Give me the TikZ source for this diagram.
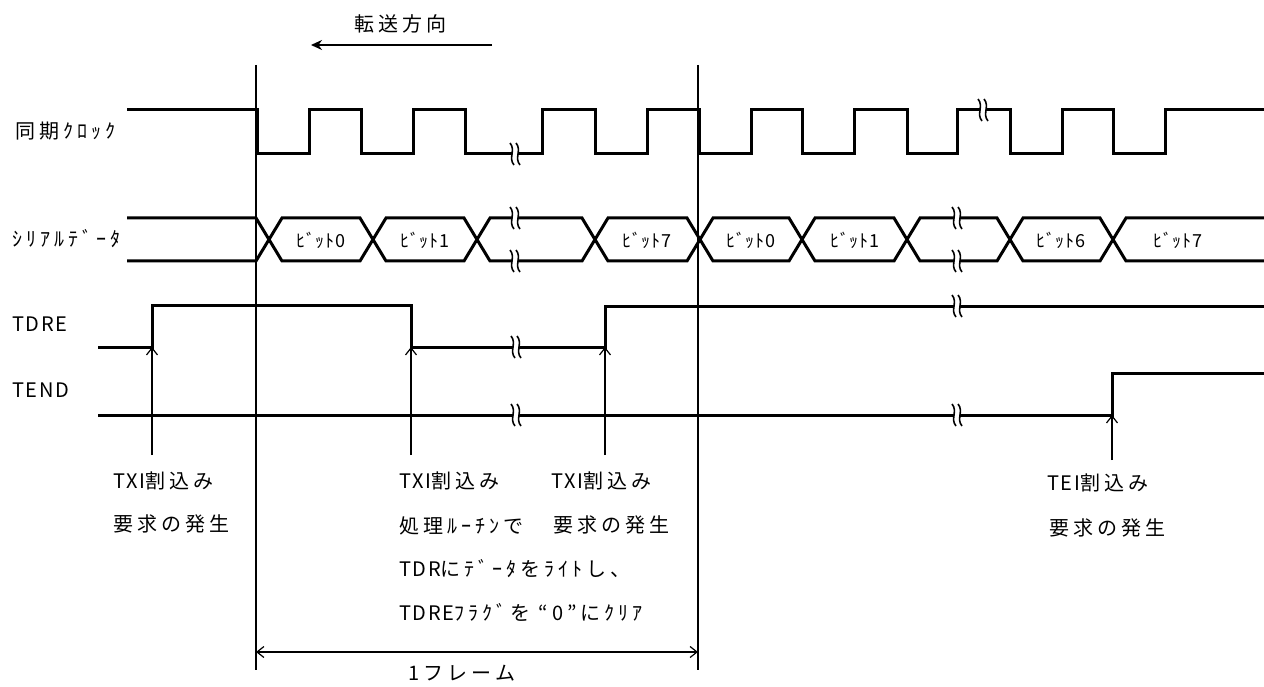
\documentclass[tikz,border=0pt]{standalone}
\usepackage{fontspec}
\setmainfont{Noto Sans CJK JP}
\newfontfamily\jpfont[LetterSpace=20]{Noto Sans CJK JP}
\newfontfamily\latfont[LetterSpace=8]{Noto Sans CJK JP}
\newfontfamily\bitfont[LetterSpace=4]{Noto Sans CJK JP}
\usetikzlibrary{arrows.meta}
\tikzset{
  sigline/.style={draw=black,line width=3pt,line join=miter},
  guide/.style={draw=black,line width=1.2pt},
  irq/.style={draw=black,line width=1.2pt,-{Straight Barb[length=7pt,width=11pt]}},
  lbl/.style={inner sep=0pt,anchor=west,font=\jpfont\fontsize{20}{24}\selectfont},
  bitlbl/.style={inner sep=0pt,font=\bitfont\fontsize{18}{22}\selectfont},
  brk/.pic={
    \fill[white] (-3,-9) rectangle (3,9);
    \draw[line width=1.6pt] (-5,-11) .. controls (1,-4) and (-7,4) .. (-1,11);
    \draw[line width=1.6pt] (1,-11) .. controls (7,-4) and (-1,4) .. (5,11);
  },
}
\newcommand{\lat}[1]{{\latfont #1}}

\begin{document}
\begin{tikzpicture}[x=1pt,y=-1pt]
\useasboundingbox (0,0) rectangle (1264,687);
\node[lbl,anchor=center] (dir) at (400,24) {転送方向};
\coordinate (dirS) at (492,45);
\coordinate (dirE) at (311,45);
\draw[line width=2pt,-{Stealth[length=11pt,width=10pt]}] (dirS) -- (dirE);
\coordinate (f1t) at (256,65);
\coordinate (f1b) at (256,670);
\coordinate (f2t) at (698,65);
\coordinate (f2b) at (698,670);
\draw[guide] (f1t) -- (f1b);
\draw[guide] (f2t) -- (f2b);
\node[lbl] (lclk) at (15,131) {同期ｸﾛｯｸ};
\node[lbl] (lser) at (12,239) {ｼﾘｱﾙﾃﾞｰﾀ};
\node[lbl] (ltdre) at (12,324) {\lat{TDRE}};
\node[lbl] (ltend) at (12,390) {\lat{TEND}};
\draw[sigline] (127,110) -- (257,110) -- (257,154) -- (309,154) -- (309,110) -- (361,110)
  -- (361,154) -- (413,154) -- (413,110) -- (465,110) -- (465,154) -- (542,154)
  -- (542,110) -- (595,110) -- (595,154) -- (647,154) -- (647,110) -- (699,110)
  -- (699,154) -- (751,154) -- (751,110) -- (802,110) -- (802,154) -- (854,154)
  -- (854,110) -- (907,110) -- (907,154) -- (957,154) -- (957,110) -- (1010,110)
  -- (1010,154) -- (1062,154) -- (1062,110) -- (1113,110) -- (1113,154) -- (1165,154)
  -- (1165,110) -- (1264,110);
\draw[sigline] (127,218) -- (256,218) -- (282,261) -- (360,261) -- (386,218) -- (464,218)
  -- (490,261) -- (582,261) -- (608,218) -- (687,218) -- (713,261) -- (789,261)
  -- (815,218) -- (894,218) -- (920,261) -- (997,261) -- (1023,218) -- (1100,218)
  -- (1126,261) -- (1264,261);
\draw[sigline] (127,261) -- (256,261) -- (282,218) -- (360,218) -- (386,261) -- (464,261)
  -- (490,218) -- (582,218) -- (608,261) -- (687,261) -- (713,218) -- (789,218)
  -- (815,261) -- (894,261) -- (920,218) -- (997,218) -- (1023,261) -- (1100,261)
  -- (1126,218) -- (1264,218);
\node[bitlbl] (b0a) at (321,240) {ﾋﾞｯﾄ0};
\node[bitlbl] (b1a) at (425,240) {ﾋﾞｯﾄ1};
\node[bitlbl] (b7a) at (647,240) {ﾋﾞｯﾄ7};
\node[bitlbl] (b0b) at (751,240) {ﾋﾞｯﾄ0};
\node[bitlbl] (b1b) at (855,240) {ﾋﾞｯﾄ1};
\node[bitlbl] (b6b) at (1061,240) {ﾋﾞｯﾄ6};
\node[bitlbl] (b7b) at (1178,240) {ﾋﾞｯﾄ7};
\draw[sigline] (98,347) -- (152,347) -- (152,305) -- (411,305) -- (411,347) -- (605,347)
  -- (605,306) -- (1264,306);
\draw[sigline] (98,415) -- (1112,415) -- (1112,373) -- (1264,373);
\pic at (515,154) {brk};
\pic at (515,218) {brk};
\pic at (515,261) {brk};
\pic at (516,347) {brk};
\pic at (516,415) {brk};
\pic at (983,110) {brk};
\pic at (957,218) {brk};
\pic at (957,261) {brk};
\pic at (957,306) {brk};
\pic at (957,415) {brk};
\coordinate (q1) at (152,455);
\coordinate (q1e) at (152,347);
\coordinate (q2) at (411,455);
\coordinate (q2e) at (411,347);
\coordinate (q3) at (605,455);
\coordinate (q3e) at (605,347);
\coordinate (q4) at (1112,460);
\coordinate (q4e) at (1112,415);
\draw[irq] (q1) -- (q1e);
\draw[irq] (q2) -- (q2e);
\draw[irq] (q3) -- (q3e);
\draw[irq] (q4) -- (q4e);
\node[lbl] (txia) at (113,481) {\lat{TXI}割込み};
\node[lbl] (reqa) at (113,524) {要求の発生};
\node[lbl] (txib) at (399,481) {\lat{TXI}割込み};
\node[lbl] (rtn) at (399,526) {処理ﾙｰﾁﾝで};
\node[lbl] (wrt) at (399,569) {\lat{TDR}にﾃﾞｰﾀをﾗｲﾄし、};
\node[lbl] (clr) at (399,612) {\lat{TDRE}ﾌﾗｸﾞを “0”にｸﾘｱ};
\node[lbl] (txic) at (551,481) {\lat{TXI}割込み};
\node[lbl] (reqc) at (553,525) {要求の発生};
\node[lbl] (tei) at (1047,483) {\lat{TEI}割込み};
\node[lbl] (reqd) at (1049,528) {要求の発生};
\coordinate (d1) at (256,652);
\coordinate (d2) at (698,652);
\draw[guide,{Straight Barb[length=7pt,width=11pt]}-{Straight Barb[length=7pt,width=11pt]}] (d1) -- (d2);
\node[lbl,anchor=center] (frm) at (462,673) {1フレーム};
\end{tikzpicture}
\end{document}
